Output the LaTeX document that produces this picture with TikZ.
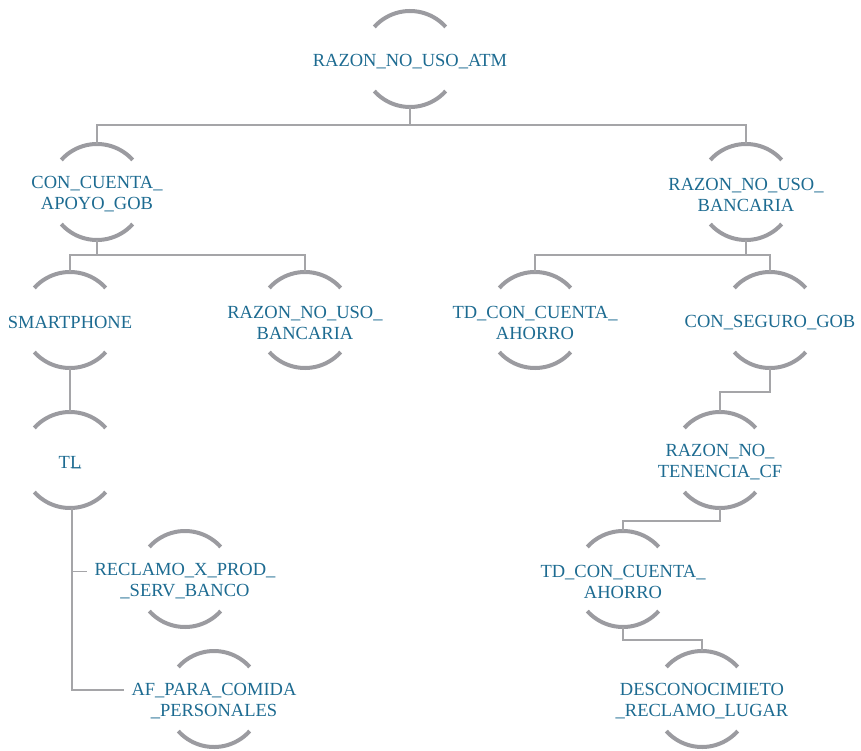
\documentclass[tikz,border=0pt]{standalone}
\usepackage{fontspec}
\setmainfont{Liberation Serif}
\definecolor{txt}{RGB}{29,107,145}
\definecolor{ringc}{RGB}{155,155,160}
\definecolor{connc}{RGB}{165,165,168}
% circle centre sits 2.5pt above the text centre
\newcommand\rings[1]{\draw[ringst] ([shift={(42:48pt)},yshift=2.5pt]#1.center) arc[start angle=42,end angle=138,radius=48pt]
  ([shift={(222:48pt)},yshift=2.5pt]#1.center) arc[start angle=222,end angle=318,radius=48pt];}
\newcommand\tconn[3]{\draw[conn] ([yshift=-45.5pt]#1.center) -- ++(0,-#3) -| ([yshift=50.5pt]#2.center);}
\begin{document}
\begin{tikzpicture}[x=1pt,y=1pt,
  lbl/.style={text=txt,align=center,inner sep=7pt,font=\fontsize{18.5}{21}\selectfont},
  ringst/.style={draw=ringc,line width=4pt},
  conn/.style={draw=connc,line width=1.6pt}]
\useasboundingbox (0,0) rectangle (861,-751);
\node[lbl] (root) at (410,-61.5) {RAZON\_NO\_USO\_ATM};
\node[lbl] (ccag) at (97,-194.5) {CON\_CUENTA\_\\APOYO\_GOB};
\node[lbl] (rnub) at (746,-194.5) {RAZON\_NO\_USO\_\\BANCARIA};
\node[lbl] (smart) at (70,-322.5) {SMARTPHONE};
\node[lbl] (rnub2) at (305,-322.5) {RAZON\_NO\_USO\_\\BANCARIA};
\node[lbl] (tdca) at (535,-322.5) {TD\_CON\_CUENTA\_\\AHORRO};
\node[lbl] (csg) at (770,-322.5) {CON\_SEGURO\_GOB};
\node[lbl] (tl) at (70,-462.5) {T\rlap{\kern0.1em\raisebox{0.12em}{\_}}L};
\node[lbl] (recl) at (185,-581.5) {RECLAMO\_X\_PROD\_\\\_SERV\_BANCO};
\node[lbl] (afpc) at (214,-701.5) {AF\_PARA\_COMIDA\\\_PERSONALES};
\node[lbl] (rntc) at (720,-462.5) {RAZON\_NO\_\\TENENCIA\_CF};
\node[lbl] (tdca2) at (623,-581.5) {TD\_CON\_CUENTA\_\\AHORRO};
\node[lbl] (desc) at (702,-701.5) {DESCONOCIMIETO\\\_RECLAMO\_LUGAR};
\foreach \n in {root,ccag,rnub,smart,rnub2,tdca,csg,tl,recl,afpc,rntc,tdca2,desc}{\rings{\n}}
\tconn{root}{ccag}{18}
\tconn{root}{rnub}{18}
\tconn{ccag}{smart}{15}
\tconn{ccag}{rnub2}{15}
\tconn{rnub}{tdca}{15}
\tconn{rnub}{csg}{15}
\draw[conn] ([yshift=-45.5pt]smart.center) -- ([yshift=50.5pt]tl.center);
\draw[conn] ([xshift=2pt,yshift=-45.5pt]tl.center) |- ([yshift=10pt]recl.west);
\draw[conn] ([xshift=2pt,yshift=-45.5pt]tl.center) |- ([yshift=11.5pt]afpc.west);
\tconn{csg}{rntc}{24}
\tconn{rntc}{tdca2}{13}
\tconn{tdca2}{desc}{13}
\end{tikzpicture}
\end{document}
